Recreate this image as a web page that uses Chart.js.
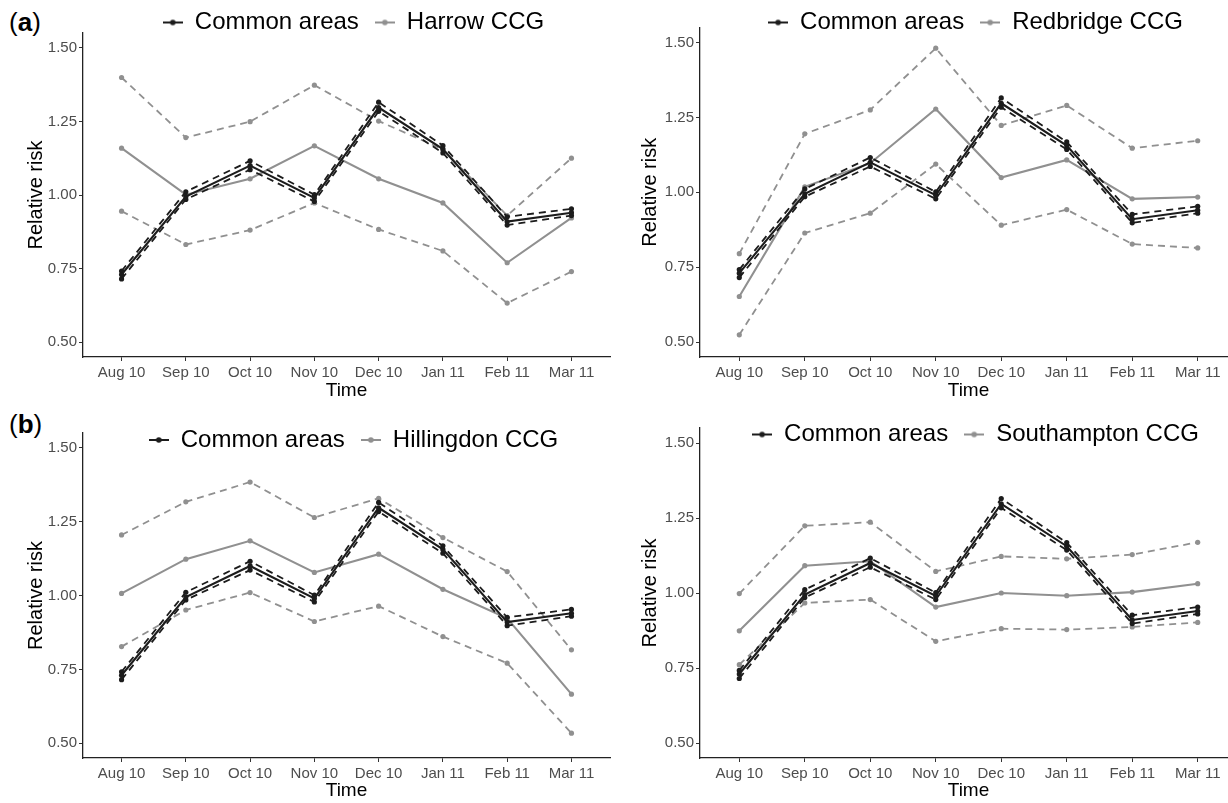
<!DOCTYPE html>
<html>
<head>
<meta charset="utf-8">
<script src="https://cdn.jsdelivr.net/npm/chart.js@4/dist/chart.umd.min.js"></script>
<style>
html, body { margin: 0; padding: 0; overflow: hidden; background: #fff; }
body { position: relative; width: 1228px; height: 803px; font-family: "Liberation Sans", Arial, sans-serif; }
canvas { position: absolute; }
.tag { position: absolute; font-size: 26px; line-height: 26px; color: #000; }
</style>
</head>
<body>
<div class="tag" style="left:9px; top:9px;">(<b>a</b>)</div>
<div class="tag" style="left:9px; top:411px;">(<b>b</b>)</div>
<canvas id="c1" width="614" height="400" style="left:0; top:0;"></canvas>
<canvas id="c2" width="627" height="400" style="left:614px; top:0;"></canvas>
<canvas id="c3" width="614" height="400" style="left:0; top:400px;"></canvas>
<canvas id="c4" width="627" height="400" style="left:614px; top:400px;"></canvas>
<script>
const months = ['Aug 10', 'Sep 10', 'Oct 10', 'Nov 10', 'Dec 10', 'Jan 11', 'Feb 11', 'Mar 11'];
const yTicks = [0.5, 0.75, 1.0, 1.25, 1.5];

// common areas (same in every panel)
const commonRR = [0.730, 0.995, 1.100, 0.990, 1.297, 1.156, 0.910, 0.940];
const commonLo = [0.715, 0.985, 1.086, 0.978, 1.284, 1.143, 0.898, 0.930];
const commonHi = [0.742, 1.011, 1.116, 1.001, 1.315, 1.168, 0.926, 0.953];

const harrowRR = [1.159, 1.001, 1.055, 1.167, 1.055, 0.973, 0.770, 0.922];
const harrowLo = [0.945, 0.832, 0.881, 0.973, 0.883, 0.810, 0.633, 0.740];
const harrowHi = [1.399, 1.195, 1.249, 1.373, 1.251, 1.155, 0.930, 1.125];

const redbridgeRR = [0.652, 1.018, 1.097, 1.278, 1.049, 1.108, 0.978, 0.984];
const redbridgeLo = [0.524, 0.864, 0.930, 1.094, 0.890, 0.942, 0.827, 0.814];
const redbridgeHi = [0.795, 1.195, 1.275, 1.481, 1.223, 1.290, 1.147, 1.172];

const hillingdonRR = [1.007, 1.123, 1.185, 1.078, 1.140, 1.021, 0.923, 0.666];
const hillingdonLo = [0.827, 0.951, 1.010, 0.912, 0.964, 0.861, 0.771, 0.534];
const hillingdonHi = [1.205, 1.317, 1.384, 1.264, 1.329, 1.196, 1.081, 0.816];

const southamptonRR = [0.874, 1.091, 1.106, 0.953, 1.000, 0.991, 1.003, 1.031];
const southamptonLo = [0.761, 0.967, 0.978, 0.839, 0.881, 0.878, 0.887, 0.902];
const southamptonHi = [0.998, 1.224, 1.236, 1.072, 1.122, 1.114, 1.128, 1.169];

const dark = '#1c1c1c';
const grey = '#909090';
const fontFamily = '"Liberation Sans", Arial, Helvetica, sans-serif';

function toPoints(values) {
    return values.map((v, i) => ({x: i, y: v}));
}

// little "line with a dot" key, like the ggplot legend
function legendKey(colour) {
    let c = document.createElement('canvas');
    c.width = 20;
    c.height = 8;
    let ctx = c.getContext('2d');
    ctx.strokeStyle = colour;
    ctx.lineWidth = 2;
    ctx.beginPath();
    ctx.moveTo(0, 4);
    ctx.lineTo(20, 4);
    ctx.stroke();
    ctx.fillStyle = colour;
    ctx.beginPath();
    ctx.arc(10, 4, 2.8, 0, Math.PI * 2);
    ctx.fill();
    return c;
}

// the legend clips to its own box; give it room to overlap the plot area like ggplot does
const legendRoom = {
    id: 'legendRoom',
    afterLayout(chart) {
        if (chart.legend) {
            chart.legend.bottom = chart.legend.top + 60;
            chart.legend.left += 7;
            chart.legend.right += 7;
        }
    }
};

function series(label, values, colour, dashed) {
    return {
        label: label,
        data: toPoints(values),
        borderColor: colour,
        backgroundColor: colour,
        pointBackgroundColor: colour,
        pointBorderWidth: 0,
        pointRadius: 2.6,
        borderWidth: dashed ? 1.8 : 2.1,
        borderDash: dashed ? [7, 5] : [],
        fill: false,
        tension: 0
    };
}

function getConfig(region, rr, lo, hi, opts) {
    let data = {
        datasets: [
            series('Common areas', commonRR, dark, false),
            series('Common lower', commonLo, dark, true),
            series('Common upper', commonHi, dark, true),
            series(region, rr, grey, false),
            series(region + ' lower', lo, grey, true),
            series(region + ' upper', hi, grey, true)
        ]
    };
    let config = {
        type: 'line',
        data: data,
        plugins: [legendRoom],
        options: {
            responsive: false,
            animation: false,
            events: [],
            layout: {
                padding: {top: opts.padTop, left: 0, right: 0, bottom: 0}
            },
            scales: {
                x: {
                    type: 'linear',
                    min: -0.6,
                    max: 7.6,
                    afterBuildTicks: s => { s.ticks = months.map((m, i) => ({value: i})); },
                    afterFit: s => { s.height = opts.xHeight; },
                    ticks: {
                        autoSkip: false,
                        maxRotation: 0,
                        padding: 3,
                        color: '#4d4d4d',
                        font: {family: fontFamily, size: 15},
                        callback: v => months[v]
                    },
                    grid: {display: true, drawOnChartArea: false, drawTicks: true, tickLength: 4, color: '#333'},
                    border: {display: true, color: '#222', width: 1.3},
                    title: {
                        display: true,
                        text: 'Time',
                        color: '#000',
                        font: {family: fontFamily, size: 19, lineHeight: 1},
                        padding: {top: 0, bottom: 0}
                    }
                },
                y: {
                    min: 0.45,
                    max: 1.55,
                    afterBuildTicks: s => { s.ticks = yTicks.map(v => ({value: v})); },
                    afterFit: s => { s.width = opts.yWidth; },
                    ticks: {
                        padding: 2,
                        color: '#4d4d4d',
                        font: {family: fontFamily, size: 15},
                        callback: v => v.toFixed(2)
                    },
                    grid: {display: true, drawOnChartArea: false, drawTicks: true, tickLength: 4, color: '#333'},
                    border: {display: true, color: '#222', width: 1.3},
                    title: {
                        display: true,
                        text: 'Relative risk',
                        color: '#000',
                        font: {family: fontFamily, size: 20, lineHeight: 1},
                        padding: {top: 26, bottom: 0}
                    }
                }
            },
            plugins: {
                tooltip: {enabled: false},
                legend: {
                    position: 'top',
                    fullSize: false,
                    maxHeight: opts.legendHeight,
                    labels: {
                        usePointStyle: true,
                        pointStyleWidth: 20,
                        padding: 16,
                        color: '#000',
                        font: {family: fontFamily, size: 24},
                        generateLabels: chart => [
                            {text: 'Common areas', pointStyle: legendKey(dark), fillStyle: dark, strokeStyle: dark, lineWidth: 0, hidden: false, datasetIndex: 0, fontColor: '#000'},
                            {text: region, pointStyle: legendKey(grey), fillStyle: grey, strokeStyle: grey, lineWidth: 0, hidden: false, datasetIndex: 3, fontColor: '#000'}
                        ]
                    }
                }
            }
        }
    };
    return config;
}

function drawPanel(id, region, rr, lo, hi, opts) {
    let ctx = document.getElementById(id).getContext('2d');
    return new Chart(ctx, getConfig(region, rr, lo, hi, opts));
}

drawPanel('c1', 'Harrow CCG', harrowRR, harrowLo, harrowHi, {padTop: -5.5, legendHeight: 38.5, xHeight: 43, yWidth: 83});
drawPanel('c2', 'Redbridge CCG', redbridgeRR, redbridgeLo, redbridgeHi, {padTop: -5.5, legendHeight: 33, xHeight: 43, yWidth: 86});
drawPanel('c3', 'Hillingdon CCG', hillingdonRR, hillingdonLo, hillingdonHi, {padTop: 12, legendHeight: 21, xHeight: 42, yWidth: 83});
drawPanel('c4', 'Southampton CCG', southamptonRR, southamptonLo, southamptonHi, {padTop: 6.5, legendHeight: 21.5, xHeight: 42, yWidth: 86});
</script>
</body>
</html>
